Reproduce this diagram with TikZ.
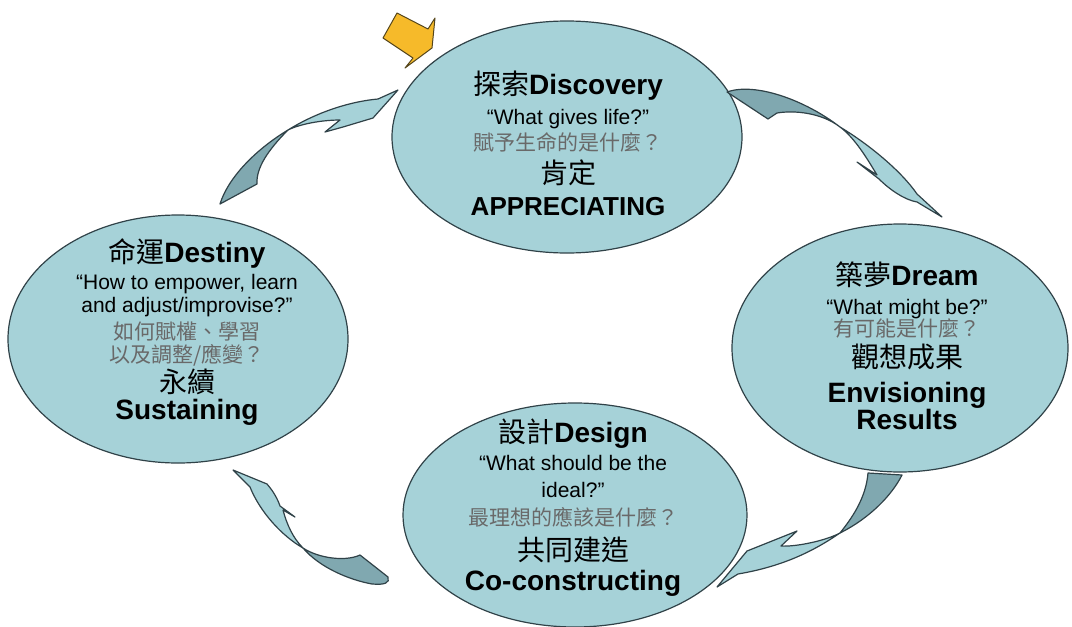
\documentclass[tikz,border=0pt]{standalone}
\usepackage{fontspec}
\setmainfont{Liberation Sans}
\newfontfamily\cjk{Noto Sans CJK TC}
\usetikzlibrary{shapes.geometric}

\definecolor{phasefill}{RGB}{166,210,216}
\definecolor{phaseedge}{RGB}{48,66,72}
\definecolor{twistfill}{RGB}{128,168,176}
\definecolor{zhgray}{RGB}{105,105,105}
\definecolor{startfill}{RGB}{246,186,42}
\definecolor{startedge}{RGB}{85,70,28}

\newcommand{\phasetitle}[2]{{\fontsize{28}{28}\selectfont{\cjk #1}\textbf{#2}}}
\newcommand{\phaseask}[1]{{\fontsize{21}{21}\selectfont #1}}
\newcommand{\phasezh}[1]{{\fontsize{21}{21}\selectfont\color{zhgray}\cjk #1}}
\newcommand{\phaseverb}[1]{{\fontsize{28}{28}\selectfont\cjk #1}}
\newcommand{\phaseword}[2][28]{{\fontsize{#1}{#1}\selectfont\bfseries #2}}

\tikzset{
  phase/.style={ellipse, draw=phaseedge, line width=1.2pt, fill=phasefill, inner sep=0pt},
  phasetext/.style={align=center, inner sep=0pt, anchor=north},
  twistback/.style={fill=twistfill, draw=phaseedge, line width=1.2pt, line join=round},
  twistfront/.style={fill=phasefill, draw=phaseedge, line width=1.2pt, line join=round},
}

\begin{document}
\begin{tikzpicture}[x=1pt, y=-1pt]
  \useasboundingbox (0,0) rectangle (1072,627);

  % the four phases
  \node[phase, minimum width=350pt, minimum height=232pt] (disc) at (567,137) {};
  \node[phase, minimum width=340pt, minimum height=248pt] (dest) at (178,339) {};
  \node[phase, minimum width=336pt, minimum height=248pt] (dream) at (900,348) {};
  \node[phase, minimum width=344pt, minimum height=224pt] (design) at (575,515) {};

  \node[phasetext, font=\fontsize{21}{30}\selectfont] (disc-text) at (568,71)
    {\phasetitle{探索}{Discovery}\\
     \phaseask{“What gives life?"}\\[-4pt]
     \phasezh{賦予生命的是什麼？}\\[3pt]
     \phaseverb{肯定}\\[2pt]
     \phaseword[26]{APPRECIATING}};
  \node[phasetext, font=\fontsize{21}{25}\selectfont] (dest-text) at (187,238)
    {\phasetitle{命運}{Destiny}\\[2pt]
     \phaseask{“How to empower, learn}\\[-2pt]
     \phaseask{and adjust/improvise?"}\\[2pt]
     \phasezh{如何賦權、學習}\\[-2pt]
     \phasezh{以及調整/應變？}\\[2pt]
     \phaseverb{永續}\\[2pt]
     \phaseword{Sustaining}};
  \node[phasetext, font=\fontsize{21}{30}\selectfont] (dream-text) at (907,262)
    {\phasetitle{築夢}{Dream}\\[-1pt]
     \phaseask{“What might be?"}\\[-8pt]
     \phasezh{有可能是什麼？}\\[1pt]
     \phaseverb{觀想成果}\\[5pt]
     \phaseword{Envisioning}\\[-3pt]
     \phaseword{Results}};
  \node[phasetext, font=\fontsize{21}{28}\selectfont] (design-text) at (573,419)
    {\phasetitle{設計}{Design}\\
     \phaseask{“What should be the}\\[-1pt]
     \phaseask{ideal?"}\\
     \phasezh{最理想的應該是什麼？}\\[7pt]
     \phaseverb{共同建造}\\[2pt]
     \phaseword{Co-constructing}};

  % twisted ribbons between the phases
  \coordinate (tw1) at (288,130);
  \coordinate (tw2) at (840,127);
  \coordinate (tw3) at (840,533);
  \coordinate (tw4) at (303,548);

  % destiny -> discovery
  \draw[twistback] (220,204) -- (257,184) .. controls (256,168) and (268,150) .. (tw1)
    .. controls (255,150) and (228,178) .. (220,204) -- cycle;
  \draw[twistfront] (tw1) .. controls (312,115) and (345,102) .. (378,99) -- (398,90)
    -- (373,118) -- (343,127) -- (325,132) -- (340,120)
    .. controls (322,120) and (300,124) .. (tw1) -- cycle;

  % discovery -> dream
  \draw[twistback] (727,92) .. controls (755,82) and (805,100) .. (tw2)
    .. controls (822,113) and (795,110) .. (777,113) -- (768,119) -- cycle;
  \draw[twistfront] (tw2) .. controls (870,145) and (902,172) .. (917,194) -- (942,217)
    -- (917,202) .. controls (905,200) and (890,190) .. (879,179) -- (857,162) -- (877,175)
    .. controls (868,160) and (855,138) .. (tw2) -- cycle;

  % dream -> design
  \draw[twistback] (868,473) -- (902,475) .. controls (892,495) and (870,518) .. (tw3)
    .. controls (852,518) and (866,498) .. (868,473) -- cycle;
  \draw[twistfront] (tw3) .. controls (815,550) and (785,566) .. (738,574) -- (717,587)
    -- (747,551) -- (797,531) -- (781,546)
    .. controls (795,547) and (825,541) .. (tw3) -- cycle;

  % design -> destiny
  \draw[twistback] (tw4) .. controls (318,558) and (345,562) .. (360,555) -- (388,577)
    .. controls (390,583) and (385,585) .. (372,584)
    .. controls (350,580) and (320,568) .. (tw4) -- cycle;
  \draw[twistfront] (tw4) .. controls (282,536) and (260,512) .. (250,487) -- (233,470)
    -- (267,484) .. controls (274,492) and (278,500) .. (280,506) -- (295,517) -- (283,510)
    .. controls (287,525) and (293,538) .. (tw4) -- cycle;

  % start marker
  \draw[fill=startfill, draw=startedge, line width=1pt, line join=round]
    (397,13) -- (428,29) -- (435,18) -- (432,48) -- (405,68) -- (413,58) -- (383,38) -- cycle;
\end{tikzpicture}
\end{document}
